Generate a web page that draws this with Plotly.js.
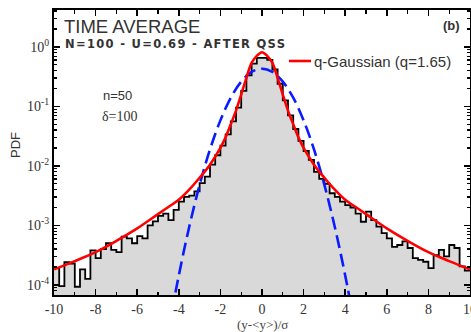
<!DOCTYPE html>
<html><head><meta charset="utf-8">
<script src="https://cdn.plot.ly/plotly-3.0.1.min.js"></script>
<style>
html,body{margin:0;padding:0;background:#fff;}
#chart{width:471px;height:332px;}
.annotation[data-index="1"] text{letter-spacing:1.3px;}
</style>
</head><body><div id="chart"></div>
<script>
// Histogram (time-averaged PDF), bins of width 0.25 from -10 to 10
const binStart = -10;
const binWidth = 0.25;
const pdfValues = [
  1.91e-4, 9.5e-5, 2.40e-4, 2.29e-4, 9.3e-5, 1.82e-4, 1.26e-4, 3.80e-4,
  2.82e-4, 3.98e-4, 5.01e-4, 3.89e-4, 3.55e-4, 6.46e-4, 6.03e-4, 5.01e-4,
  6.61e-4, 6.03e-4, 1.00e-3, 1.17e-3, 1.45e-3, 1.58e-3, 1.23e-3, 1.82e-3,
  2.51e-3, 3.02e-3, 3.16e-3, 3.72e-3, 5.13e-3, 6.61e-3, 1.05e-2, 1.51e-2,
  2.19e-2, 3.39e-2, 5.62e-2, 9.55e-2, 0.182, 0.331, 0.525, 0.653,
  0.653, 0.603, 0.417, 0.240, 0.126, 7.08e-2, 4.17e-2, 2.63e-2,
  1.78e-2, 1.26e-2, 7.94e-3, 6.03e-3, 5.01e-3, 3.47e-3, 3.02e-3, 2.51e-3,
  2.19e-3, 2.00e-3, 1.58e-3, 1.15e-3, 1.70e-3, 1.23e-3, 9.55e-4, 7.41e-4,
  6.03e-4, 4.37e-4, 4.68e-4, 5.37e-4, 4.17e-4, 2.82e-4, 2.63e-4, 2.45e-4,
  1.91e-4, 3.16e-4, 3.89e-4, 3.02e-4, 4.68e-4, 4.17e-4, 2.04e-4, 1.74e-4
];

// q-Gaussian fit (q = 1.65)
const qgX = [-10,-9,-8,-7,-6,-5,-4.5,-4,-3.5,-3,-2.5,-2,-1.75,-1.5,-1.25,-1,-0.75,-0.5,-0.25,0,
             0.25,0.5,0.75,1,1.25,1.5,1.75,2,2.5,3,3.5,4,4.5,5,6,7,8,9,10];
const qgY = [1.82e-4,2.51e-4,3.55e-4,5.50e-4,8.91e-4,1.55e-3,2.04e-3,2.69e-3,3.98e-3,6.31e-3,1.05e-2,2.00e-2,3.02e-2,5.01e-2,8.51e-2,0.158,0.302,0.537,0.708,0.813,
             0.708,0.537,0.302,0.158,8.51e-2,5.01e-2,3.02e-2,2.00e-2,1.05e-2,6.31e-3,3.98e-3,2.69e-3,2.04e-3,1.55e-3,8.91e-4,5.50e-4,3.55e-4,2.51e-4,1.82e-4];

// Gaussian (dashed blue)
const gaussX = [-4.5,-4,-3.5,-3,-2.5,-2,-1.5,-1,-0.5,0,0.5,1,1.5,2,2.5,3,3.5,4,4.5];
const gaussY = [1.73e-5,1.44e-4,9.42e-4,4.78e-3,1.89e-2,5.82e-2,0.140,0.261,0.379,0.43,0.379,0.261,0.140,5.82e-2,1.89e-2,4.78e-3,9.42e-4,1.44e-4,1.73e-5];

const xTickVals = [-10,-8,-6,-4,-2,0,2,4,6,8,10];
const xTickText = ['-10','-8','-6','-4','-2','0','2','4','6','8','10'];
const yTickVals = [1e-4,1e-3,1e-2,1e-1,1];
const yTickText = ['10<sup>-4</sup>','10<sup>-3</sup>','10<sup>-2</sup>','10<sup>-1</sup>','10<sup>0</sup>'];

const legendLabel = 'q-Gaussian (q=1.65)';
const titleMain = 'TIME AVERAGE';
const titleSub = 'N=100 - U=0.69 - AFTER QSS';
const panelLabel = '(b)';
const paramN = 'n=50';
const paramDelta = 'δ=100';
const yTitle = 'PDF';
const xTitle = '(y-&lt;y&gt;)/σ';

// step-histogram coordinates from the bins
const histX = [], histY = [];
for (let i = 0; i < pdfValues.length; i++) {
  histX.push(binStart + i * binWidth);
  histY.push(pdfValues[i]);
}
histX.push(binStart + pdfValues.length * binWidth);
histY.push(pdfValues[pdfValues.length - 1]);

// minor log ticks
const yMinor = [];
for (let e = -5; e <= 0; e++) for (let m = 2; m <= 9; m++) yMinor.push(m * Math.pow(10, e));

const W = 471, H = 332, L = 54, R = 1, T = 10, B = 37;
const pw = W - L - R, ph = H - T - B;
const px = v => (v - L) / pw;
const py = v => (H - B - v) / ph;

const traces = [
  {x: [binStart, -binStart], y: [1e-6, 1e-6], mode: 'lines', line: {width: 0, color: 'rgba(0,0,0,0)'}, showlegend: false, hoverinfo: 'skip'},
  {x: histX, y: histY, mode: 'lines', line: {shape: 'hv', color: '#000', width: 1.8},
   fill: 'tonexty', fillcolor: '#d9d9d9', showlegend: false},
  {x: gaussX, y: gaussY, mode: 'lines', line: {shape: 'spline', color: '#0a1cff', width: 2.6, dash: '13px,6px'}, showlegend: false},
  {x: qgX, y: qgY, mode: 'lines', line: {shape: 'spline', color: '#ff0000', width: 2.6}, showlegend: false, name: legendLabel}
];

const fontSans = 'Liberation Sans, Arial, sans-serif';
const fontSerif = 'Liberation Serif, Times New Roman, serif';

const layout = {
  width: W, height: H,
  margin: {l: L, r: R, t: T, b: B, pad: 0},
  paper_bgcolor: '#fff', plot_bgcolor: '#fff',
  showlegend: false,
  xaxis: {
    range: [-10, 10], showgrid: false, zeroline: false,
    showline: true, linecolor: '#000', linewidth: 2, mirror: 'allticks',
    ticks: 'inside', ticklen: 6, tickwidth: 1.5, tickcolor: '#000',
    tickmode: 'array', tickvals: xTickVals, ticktext: xTickText,
    ticklabeloverflow: 'allow',
    tickfont: {family: fontSerif, size: 14, color: '#333'},
    minor: {ticks: 'inside', ticklen: 3.5, tickwidth: 1.2, tickcolor: '#000', dtick: 1, tick0: 0, showgrid: false},
    automargin: false
  },
  yaxis: {
    type: 'log', range: [-4.17, 0.62], showgrid: false, zeroline: false,
    showline: true, linecolor: '#000', linewidth: 2, mirror: 'allticks',
    ticks: 'inside', ticklen: 6, tickwidth: 1.5, tickcolor: '#000',
    tickmode: 'array', tickvals: yTickVals, ticktext: yTickText,
    tickfont: {family: fontSerif, size: 14, color: '#333'},
    minor: {ticks: 'inside', ticklen: 3, tickwidth: 1.2, tickcolor: '#000', tickmode: 'array', tickvals: yMinor, showgrid: false},
    automargin: false
  },
  shapes: [
    {type: 'line', xref: 'paper', yref: 'paper', x0: px(289), x1: px(311), y0: py(61), y1: py(61),
     line: {color: '#ff0000', width: 2.6}}
  ],
  annotations: [
    {text: titleMain, xref: 'paper', yref: 'paper', x: px(62), y: py(27), xanchor: 'left', yanchor: 'middle', showarrow: false,
     font: {family: fontSans, size: 18.5, color: '#333'}},
    {text: titleSub, xref: 'paper', yref: 'paper', x: px(175), y: py(44), xanchor: 'center', yanchor: 'middle', showarrow: false,
     font: {family: 'DejaVu Sans, sans-serif', size: 11.5, color: '#333', weight: 'bold'}},
    {text: panelLabel, xref: 'paper', yref: 'paper', x: px(451), y: py(25), xanchor: 'center', yanchor: 'middle', showarrow: false,
     font: {family: fontSans, size: 13, color: '#333', weight: 'bold'}},
    {text: paramN, xref: 'paper', yref: 'paper', x: px(101), y: py(95), xanchor: 'left', yanchor: 'middle', showarrow: false,
     font: {family: fontSans, size: 13, color: '#333'}},
    {text: paramDelta, xref: 'paper', yref: 'paper', x: px(100), y: py(116), xanchor: 'left', yanchor: 'middle', showarrow: false,
     font: {family: fontSerif, size: 14, color: '#333'}},
    {text: legendLabel, xref: 'paper', yref: 'paper', x: px(312), y: py(61), xanchor: 'left', yanchor: 'middle', showarrow: false,
     font: {family: fontSans, size: 15, color: '#333'}},
    {text: yTitle, xref: 'paper', yref: 'paper', x: px(15), y: py(145), xanchor: 'center', yanchor: 'middle', textangle: -90, showarrow: false,
     font: {family: fontSans, size: 13, color: '#333'}},
    {text: xTitle, xref: 'paper', yref: 'paper', x: px(262), y: py(324), xanchor: 'center', yanchor: 'middle', showarrow: false,
     font: {family: fontSerif, size: 13, color: '#444'}}
  ]
};

Plotly.newPlot('chart', traces, layout, {staticPlot: true, displayModeBar: false});
</script>
</body></html>
